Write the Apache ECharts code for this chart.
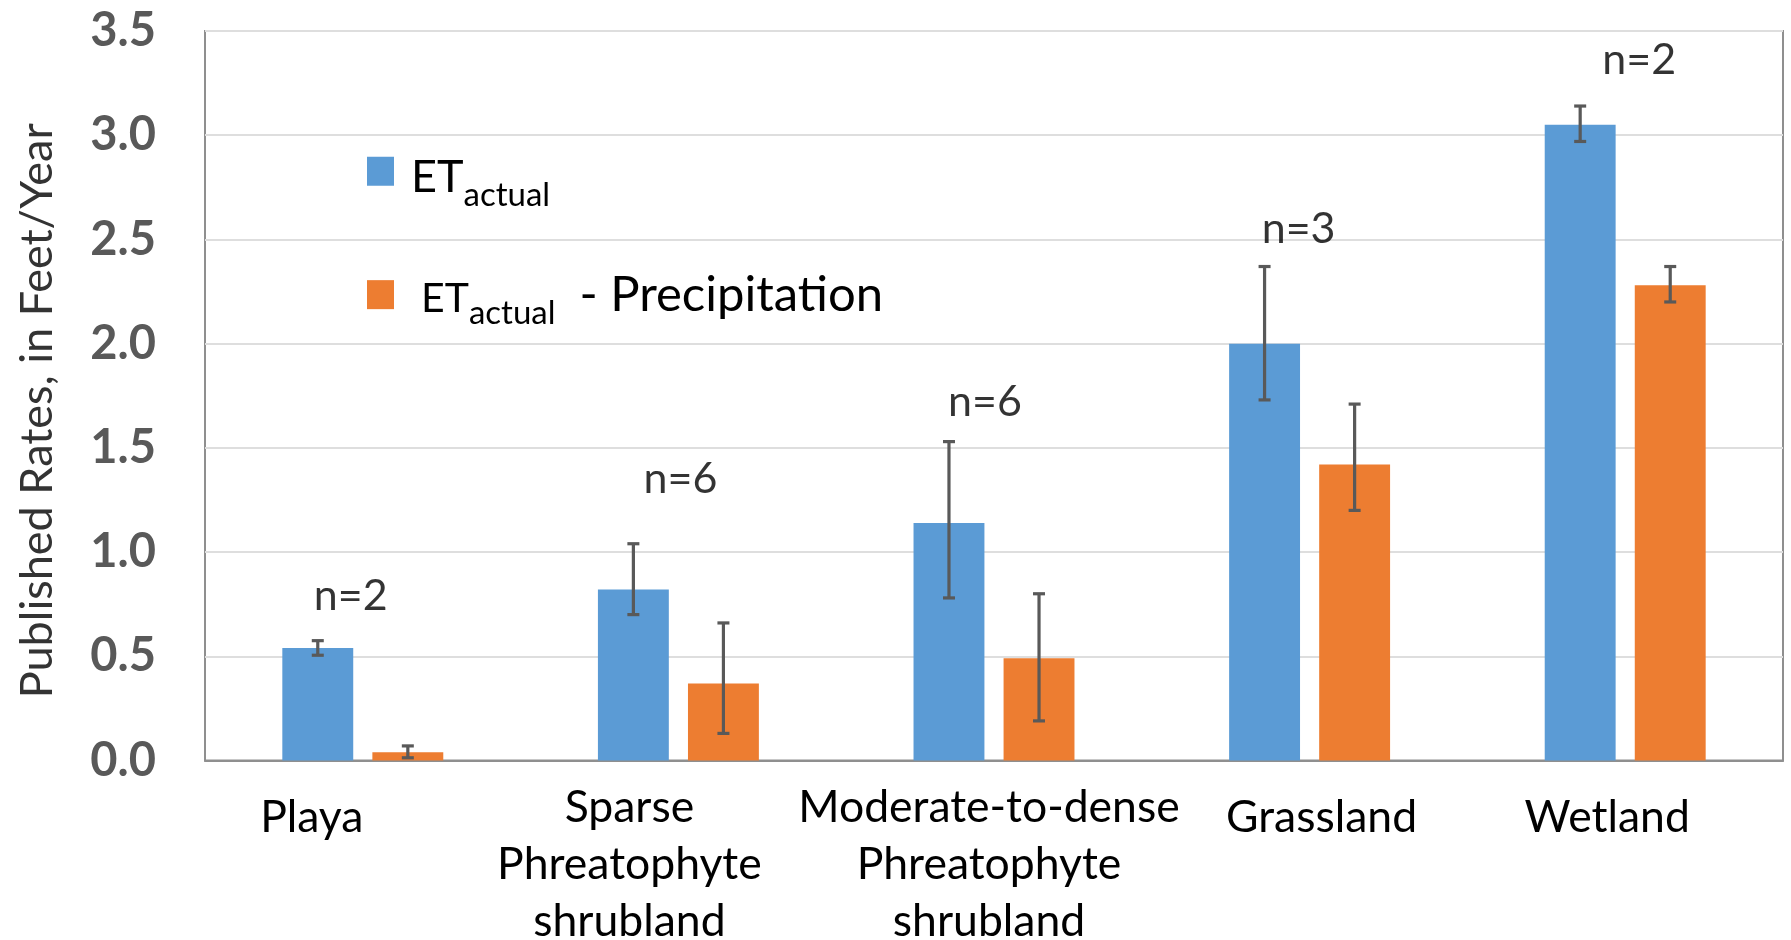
<!DOCTYPE html>
<html>
<head>
<meta charset="utf-8">
<script src="https://cdn.jsdelivr.net/npm/echarts@6/dist/echarts.min.js"></script>
<style>
  html, body { margin: 0; padding: 0; background: #ffffff; }
  #chart { width: 1791px; height: 940px; }
</style>
</head>
<body>
<div id="chart"></div>
<script>
// ---- data ----
const categories = [
  'Playa',
  'Sparse\nPhreatophyte\nshrubland',
  'Moderate-to-dense\nPhreatophyte\nshrubland',
  'Grassland',
  'Wetland'
];
const etActual          = [0.54, 0.82, 1.14, 2.00, 3.05];
const etActualLow       = [0.505, 0.70, 0.78, 1.73, 2.97];
const etActualHigh      = [0.575, 1.04, 1.53, 2.37, 3.14];
const etMinusPrecip     = [0.04, 0.37, 0.49, 1.42, 2.28];
const etMinusPrecipLow  = [0.013, 0.13, 0.19, 1.20, 2.20];
const etMinusPrecipHigh = [0.07, 0.66, 0.80, 1.71, 2.37];
const sampleCounts      = [2, 6, 6, 3, 2];
const yMin = 0, yMax = 3.5, yStep = 0.5;

// ---- layout / style ----
const FONT = 'Lato, "Open Sans", sans-serif';
const BLUE = '#5B9BD5';
const ORANGE = '#ED7D31';
const WHISKER = '#595959';
const BAR_GAP = 0.27;        // gap between the two bars of a group, as fraction of bar width
const CATEGORY_GAP = 0.49;   // empty share of each category band
const nLabelHeights = [0.79, 1.35, 1.72, 2.55, 3.36];   // annotation anchors, axis units
const nLabelShift   = [-12, 2, -9, -11, 14];            // px
const catLabelShift = [-51, -49, -5, 12, -18];          // px

const catRich = {};
categories.forEach((c, i) => {
  const s = catLabelShift[i];
  const single = c.indexOf('\n') < 0;
  catRich['c' + i] = {
    fontFamily: FONT, fontSize: 44.5, color: '#000', lineHeight: 57,
    padding: [single ? 20 : 0, s < 0 ? -2 * s : 0, 0, s > 0 ? 2 * s : 0]
  };
});

function errorBars(name, side, low, high) {
  return {
    type: 'custom',
    name: name,
    silent: true,
    z: 5,
    renderItem: function (params, api) {
      const i = api.value(0);
      const band = api.size([1, 0])[0];
      const barW = band * (1 - CATEGORY_GAP) / (2 + BAR_GAP);
      const dx = side * (barW * (1 + BAR_GAP)) / 2;
      const lo = api.coord([i, api.value(1)]);
      const hi = api.coord([i, api.value(2)]);
      const x = lo[0] + dx;
      const cap = 6;
      const st = { stroke: WHISKER, lineWidth: 3.2 };
      return {
        type: 'group',
        children: [
          { type: 'line', shape: { x1: x, y1: hi[1], x2: x, y2: lo[1] }, style: st },
          { type: 'line', shape: { x1: x - cap, y1: hi[1], x2: x + cap, y2: hi[1] }, style: st },
          { type: 'line', shape: { x1: x - cap, y1: lo[1], x2: x + cap, y2: lo[1] }, style: st }
        ]
      };
    },
    encode: { x: 0, y: [1, 2] },
    data: low.map((v, i) => [i, v, high[i]])
  };
}

const chart = echarts.init(document.getElementById('chart'), null, { renderer: 'canvas' });

chart.setOption({
  animation: false,
  backgroundColor: '#ffffff',
  grid: {
    left: 205, right: 8, top: 31, bottom: 179.5,
    containLabel: false,
    outerBoundsMode: 'none',
    show: true,
    borderColor: '#8f8f8f',
    borderWidth: 2,
    backgroundColor: 'transparent'
  },
  legend: {
    data: ['ETactual', 'ETactual - Precipitation'],
    orient: 'vertical',
    left: 367,
    top: 155,
    padding: 0,
    itemGap: 59,
    itemWidth: 27,
    itemHeight: 29,
    icon: 'rect',
    selectedMode: false,
    formatter: function (name) {
      return name === 'ETactual'
        ? '{et1|ET}{sub|actual}'
        : '{et2|ET}{sub|actual}{rest|- Precipitation}';
    },
    textStyle: {
      color: '#000',
      fontFamily: FONT,
      rich: {
        et1: { fontFamily: FONT, fontSize: 45, color: '#000', verticalAlign: 'bottom', padding: [24, 0, 11.5, 12] },
        et2: { fontFamily: FONT, fontSize: 41, color: '#000', verticalAlign: 'bottom', padding: [16, 0, 11, 22] },
        sub: { fontFamily: FONT, fontSize: 33, color: '#000', verticalAlign: 'bottom' },
        rest: { fontFamily: FONT, fontSize: 49, color: '#000', verticalAlign: 'bottom', padding: [11, 0, 10.3, 24] }
      }
    }
  },
  xAxis: {
    type: 'category',
    data: categories,
    axisTick: { show: false },
    axisLine: { show: true, lineStyle: { color: '#8f8f8f', width: 2 } },
    axisLabel: {
      margin: 19,
      interval: 0,
      fontFamily: FONT,
      fontSize: 44.5,
      color: '#000',
      lineHeight: 57,
      formatter: function (value, idx) {
        return value.split('\n').map(l => '{c' + idx + '|' + l + '}').join('\n');
      },
      rich: catRich
    },
    splitLine: { show: false }
  },
  yAxis: {
    type: 'value',
    min: yMin,
    max: yMax,
    interval: yStep,
    name: 'Published Rates, in Feet/Year',
    nameLocation: 'middle',
    nameGap: 145,
    nameTextStyle: { fontFamily: FONT, fontSize: 45, color: '#333333', padding: [0, 30, 0, 0] },
    axisLine: { show: false },
    axisTick: { show: false },
    axisLabel: {
      margin: 49,
      fontFamily: FONT,
      fontSize: 47,
      fontWeight: 'bold',
      color: '#595959',
      formatter: v => v.toFixed(1)
    },
    splitLine: { show: true, lineStyle: { color: '#dedede', width: 2 } }
  },
  series: [
    {
      name: 'ETactual',
      type: 'bar',
      data: etActual,
      itemStyle: { color: BLUE },
      barGap: (BAR_GAP * 100) + '%',
      barCategoryGap: (CATEGORY_GAP * 100) + '%',
      z: 2
    },
    {
      name: 'ETactual - Precipitation',
      type: 'bar',
      data: etMinusPrecip,
      itemStyle: { color: ORANGE },
      z: 2
    },
    errorBars('ETactual range', -1, etActualLow, etActualHigh),
    errorBars('ETactual - Precipitation range', 1, etMinusPrecipLow, etMinusPrecipHigh),
    {
      name: 'sample size',
      type: 'scatter',
      symbolSize: 1,
      itemStyle: { color: 'rgba(0,0,0,0)' },
      silent: true,
      z: 6,
      data: sampleCounts.map((n, i) => ({
        value: [i, nLabelHeights[i]],
        label: { offset: [nLabelShift[i], 0] }
      })),
      label: {
        show: true,
        position: 'inside',
        fontFamily: FONT,
        fontSize: 43,
        color: '#000',
        formatter: p => 'n=' + sampleCounts[p.dataIndex]
      }
    }
  ]
});
</script>
</body>
</html>
